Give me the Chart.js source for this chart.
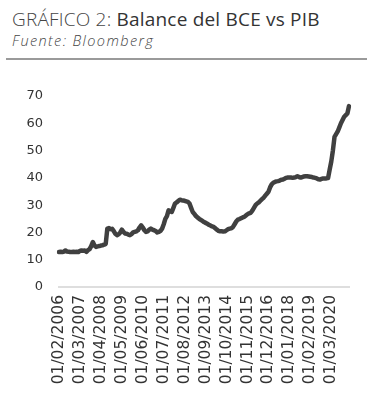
<!DOCTYPE html>
<html><head><meta charset="utf-8">
<script src="https://cdn.jsdelivr.net/npm/chart.js@4"></script>
<style>
html,body{margin:0;padding:0;background:#fff;width:367px;height:394px;overflow:hidden}
#t{position:absolute;left:12px;top:6px;font-family:'Open Sans';font-size:19px;letter-spacing:0.2px;color:#444;white-space:nowrap}
#t .l{font-weight:300}
#t .b{font-weight:500;color:#333}
#s{position:absolute;left:12px;top:31px;font-family:'Open Sans';font-style:italic;font-weight:300;font-size:14.5px;letter-spacing:1.4px;color:#444;white-space:nowrap}
#r{position:absolute;left:6px;top:58px;width:361px;height:2px;background:#9a9a9a}
#c{position:absolute;left:0;top:62px;width:367px;height:332px}
</style></head><body>
<div id="t"><span class="l">GRÁFICO 2: </span><span class="b">Balance del BCE vs PIB</span></div>
<div id="s">Fuente: Bloomberg</div>
<div id="r"></div>
<div id="c"><canvas id="cv"></canvas></div>
<script>
// Monthly series, starting 01/02/2006
const startYear = 2006, startMonth = 2;
const tickEvery = 13;
const values = [
12.8,12.9,12.8,13.0,13.4,13.0,12.9,12.8,12.8,12.9,
12.8,12.9,12.8,13.2,13.4,13.3,13.4,12.9,13.5,13.9,
15.0,16.5,15.2,14.7,14.9,15.0,15.2,15.3,15.5,15.8,
21.4,21.6,21.2,21.3,20.5,19.5,19.0,19.3,20.0,21.0,
20.2,19.6,19.5,19.2,19.0,19.4,20.0,20.2,20.4,20.8,
21.8,22.6,21.8,20.8,20.2,20.4,21.0,21.4,21.0,20.8,
20.5,20.0,20.2,20.6,21.4,23.0,25.0,26.0,28.1,27.8,
27.5,29.0,30.6,31.0,31.5,32.0,31.8,31.7,31.6,31.4,
31.2,30.6,29.0,27.5,26.8,26.0,25.5,25.0,24.6,24.2,
23.8,23.5,23.2,22.8,22.5,22.2,22.0,21.5,21.0,20.6,
20.4,20.4,20.3,20.4,20.8,21.2,21.4,21.5,22.0,23.0,
24.0,24.7,24.9,25.2,25.5,25.7,26.2,26.7,27.0,27.2,
28.0,29.0,30.0,30.6,31.0,31.6,32.2,32.7,33.5,34.2,
34.9,36.5,37.6,38.2,38.5,38.7,38.8,39.0,39.3,39.4,
39.7,40.0,40.1,40.1,40.1,40.0,40.1,40.3,40.6,40.3,
40.1,40.3,40.5,40.6,40.6,40.5,40.4,40.3,40.1,40.0,
39.8,39.5,39.4,39.6,39.8,39.8,39.8,39.9,43.0,46.0,
50.0,55.0,56.0,57.0,58.5,60.0,61.2,62.4,63.0,63.6,66.3
];
const yTicks = [0,10,20,30,40,50,60,70];

const categories = [];
for (let i = 0; i < values.length; i++) {
  const m0 = startMonth - 1 + i;
  const y = startYear + Math.floor(m0 / 12);
  const m = (m0 % 12) + 1;
  categories.push('01/' + String(m).padStart(2,'0') + '/' + y);
}

new Chart(document.getElementById('cv'), {
  type: 'line',
  data: {
    labels: categories,
    datasets: [{
      data: values,
      borderColor: '#404040',
      borderWidth: 4.5,
      pointRadius: 0,
      tension: 0,
      borderJoinStyle: 'round',
      borderCapStyle: 'round'
    }]
  },
  options: {
    responsive: true,
    maintainAspectRatio: false,
    animation: false,
    devicePixelRatio: 1,
    layout: { padding: { top: 34, right: 18, bottom: 0, left: 0 } },
    plugins: { legend: { display: false }, tooltip: { enabled: false }, title: { display: false } },
    scales: {
      x: {
        type: 'category',
        offset: false,
        grid: { display: false, drawTicks: false },
        border: { display: true, color: '#dedede', width: 2 },
        ticks: {
          autoSkip: false, minRotation: 90, maxRotation: 90, padding: 8,
          color: '#333', font: { family: 'DejaVu Sans', size: 15.5 },
          callback: function(v, i) { return i % tickEvery === 0 ? this.getLabelForValue(v) : null; }
        },
        afterFit: s => { s.height = 107; }
      },
      y: {
        min: yTicks[0], max: yTicks[yTicks.length - 1],
        grid: { display: false, drawTicks: false },
        border: { display: false },
        afterBuildTicks: s => { s.ticks = yTicks.map(v => ({ value: v })); },
        ticks: { padding: 16, color: '#333', font: { family: 'DejaVu Sans', size: 13 } },
        afterFit: s => { s.width = 59; }
      }
    }
  }
});
</script>
</body></html>
